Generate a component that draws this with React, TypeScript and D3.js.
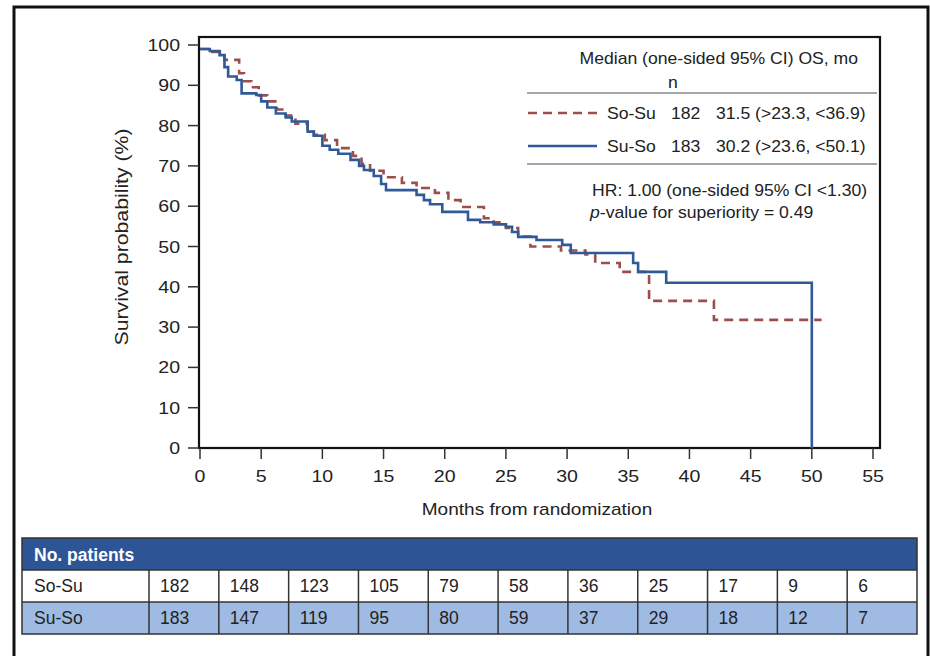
import React from "react";
import * as d3 from "d3";

// Kaplan–Meier step data (time in months, survival %)
const soSuTimes = [0, 1.0, 2.0, 3.2, 3.6, 4.2, 4.8, 5.5, 6.3, 7.0, 7.8, 8.8, 9.3, 10.2, 11.2, 12.5, 13.2, 13.9, 15.0, 16.5, 17.7, 19.2, 20.3, 21.3, 23.2, 24.0, 25.0, 26.0, 27.0, 29.5, 31.5, 32.3, 34.3, 36.7, 42.0, 50.8];
const soSuSurv = [99, 98.3, 96.3, 93, 91, 89.5, 87.5, 86, 84, 82.5, 80.5, 79, 77.7, 76.4, 74.4, 72.5, 70.5, 68.8, 67.2, 65.8, 64.5, 63.3, 61.5, 59.8, 57, 56, 54.6, 52.5, 50, 49, 48, 45.9, 43.7, 36.5, 31.8, 31.8];

const suSoTimes = [0, 0.8, 1.6, 2.0, 2.3, 3.0, 3.4, 4.6, 5.0, 5.5, 6.2, 7.0, 7.5, 8.8, 9.3, 10.0, 10.6, 11.3, 12.3, 13.0, 13.4, 14.2, 14.8, 15.2, 17.7, 18.3, 18.8, 19.8, 21.9, 22.9, 24.0, 25.0, 25.5, 26.0, 27.5, 29.6, 30.3, 35.4, 35.8, 38.1, 50];
const suSoSurv = [99, 98.5, 97.5, 94.5, 92.2, 91.3, 88, 87.6, 86, 84.5, 83, 82, 81, 78.5, 77.5, 75, 74, 73, 71.5, 70, 69, 67.5, 65.5, 64, 62.8, 61.5, 60.5, 58.6, 56.6, 56, 55.5, 54.9, 53.6, 52.4, 51.6, 50.4, 48.4, 45.9, 43.7, 41, 0];

const xTicks = [0, 5, 10, 15, 20, 25, 30, 35, 40, 45, 50, 55];
const yTicks = [0, 10, 20, 30, 40, 50, 60, 70, 80, 90, 100];

const groupNames = ["So-Su", "Su-So"];
const groupN = ["182", "183"];
const groupMedian = ["31.5 (>23.3, <36.9)", "30.2 (>23.6, <50.1)"];
const atRiskSoSu = [182, 148, 123, 105, 79, 58, 36, 25, 17, 9, 6];
const atRiskSuSo = [183, 147, 119, 95, 80, 59, 37, 29, 18, 12, 7];

const RED = "#9b4f4c";
const BLUE = "#2f5a97";
const FONT = "'Liberation Sans', Arial, sans-serif";
const TXT = "#222";

function T(props: {
  x: number;
  y: number;
  sx?: number;
  size: number;
  anchor?: string;
  rotate?: number;
  weight?: string;
  fill?: string;
  children: React.ReactNode;
}) {
  const { x, y, sx = 1, size, anchor = "start", rotate = 0, weight = "normal", fill = TXT, children } = props;
  return (
    <text
      transform={`translate(${x},${y}) rotate(${rotate}) scale(${sx},1)`}
      textAnchor={anchor}
      fontSize={size}
      fontWeight={weight}
      fill={fill}
    >
      {children}
    </text>
  );
}

export default function App() {
  const x = d3.scaleLinear().domain([0, 55]).range([200, 873]);
  const y = d3.scaleLinear().domain([0, 100]).range([448, 45]);
  const line = d3
    .line<[number, number]>()
    .x((d) => x(d[0]))
    .y((d) => y(d[1]))
    .curve(d3.curveStepAfter);

  const redPts = soSuTimes.map((t, i) => [t, soSuSurv[i]] as [number, number]);
  const bluePts = suSoTimes.map((t, i) => [t, suSoSurv[i]] as [number, number]);

  const tableLeft = 22;
  const firstColRight = 149;
  const tableRight = 917;
  const colW = (tableRight - firstColRight) / atRiskSoSu.length;
  const hdrTop = 538;
  const row1Top = 570;
  const row2Top = 602;
  const tableBottom = 634;

  const LG = 16;
  const LSX = 1.1;

  return (
    <div style={{ position: "absolute", left: 0, top: 0 }}>
      <svg width={930} height={656} style={{ display: "block", fontFamily: FONT }}>
        <rect x={0} y={0} width={930} height={656} fill="#fff" />
        {/* outer frame */}
        <path d="M14,660 L14,7 L928,7 L928,660" fill="none" stroke="#111" strokeWidth={3} />

        {/* plot box */}
        <rect x={199} y={37} width={681} height={411} fill="none" stroke="#111" strokeWidth={2.2} />

        {/* y ticks */}
        {yTicks.map((v) => (
          <g key={"y" + v}>
            <line x1={188} x2={199} y1={y(v)} y2={y(v)} stroke="#333" strokeWidth={1.5} />
            <T x={180} y={y(v) + 6} size={17} sx={1.15} anchor="end">
              {v}
            </T>
          </g>
        ))}
        {/* x ticks */}
        {xTicks.map((v) => (
          <g key={"x" + v}>
            <line x1={x(v)} x2={x(v)} y1={448} y2={459} stroke="#333" strokeWidth={1.5} />
            <T x={x(v)} y={482} size={17} sx={1.15} anchor="middle">
              {v}
            </T>
          </g>
        ))}
        <T x={537} y={515} size={17} sx={1.12} anchor="middle">
          Months from randomization
        </T>
        <T x={128} y={237} size={18} sx={1.18} anchor="middle" rotate={-90}>
          Survival probability (%)
        </T>

        {/* curves */}
        <path d={line(redPts) || ""} fill="none" stroke={RED} strokeWidth={2.6} strokeDasharray="9,6" />
        <path d={line(bluePts) || ""} fill="none" stroke={BLUE} strokeWidth={2.6} />

        {/* legend */}
        <T x={858} y={64} size={LG} sx={LSX} anchor="end">
          Median (one-sided 95% CI) OS, mo
        </T>
        <T x={668} y={88} size={LG} sx={LSX}>
          n
        </T>
        <line x1={527} x2={877} y1={93} y2={93} stroke="#888" strokeWidth={1.5} />
        <line x1={528} x2={597} y1={113} y2={113} stroke={RED} strokeWidth={2.6} strokeDasharray="9,6" />
        <line x1={528} x2={597} y1={146} y2={146} stroke={BLUE} strokeWidth={2.6} />
        {groupNames.map((g, i) => (
          <g key={g}>
            <T x={607} y={119 + i * 33} size={LG} sx={LSX}>
              {g}
            </T>
            <T x={671} y={119 + i * 33} size={LG} sx={LSX}>
              {groupN[i]}
            </T>
            <T x={716} y={119 + i * 33} size={LG} sx={LSX}>
              {groupMedian[i]}
            </T>
          </g>
        ))}
        <line x1={527} x2={877} y1={164} y2={164} stroke="#888" strokeWidth={1.5} />
        <T x={592} y={196} size={LG} sx={LSX}>
          HR: 1.00 (one-sided 95% CI &lt;1.30)
        </T>
        <T x={590} y={218} size={LG} sx={LSX}>
          <tspan fontStyle="italic">p</tspan>-value for superiority = 0.49
        </T>

        {/* at-risk table */}
        <rect x={tableLeft} y={hdrTop} width={tableRight - tableLeft} height={row1Top - hdrTop} fill="#2d5596" />
        <rect x={tableLeft} y={row1Top} width={tableRight - tableLeft} height={row2Top - row1Top} fill="#fff" />
        <rect x={tableLeft} y={row2Top} width={tableRight - tableLeft} height={tableBottom - row2Top} fill="#9fbbe3" />
        <rect x={tableLeft} y={hdrTop} width={tableRight - tableLeft} height={tableBottom - hdrTop} fill="none" stroke="#333" strokeWidth={1.5} />
        <line x1={tableLeft} x2={tableRight} y1={row1Top} y2={row1Top} stroke="#333" strokeWidth={1.5} />
        <line x1={tableLeft} x2={tableRight} y1={row2Top} y2={row2Top} stroke="#333" strokeWidth={1.5} />
        <line x1={firstColRight} x2={firstColRight} y1={row1Top} y2={tableBottom} stroke="#333" strokeWidth={1.5} />
        {atRiskSoSu.map((_, i) =>
          i > 0 ? (
            <line
              key={"c" + i}
              x1={firstColRight + i * colW}
              x2={firstColRight + i * colW}
              y1={row1Top}
              y2={tableBottom}
              stroke="#333"
              strokeWidth={1.5}
            />
          ) : null
        )}
        <T x={34} y={561} size={17.5} weight="bold" fill="#fff">
          No. patients
        </T>
        <T x={34} y={592} size={17.5}>
          So-Su
        </T>
        <T x={34} y={624} size={17.5}>
          Su-So
        </T>
        {atRiskSoSu.map((v, i) => (
          <T key={"r1" + i} x={firstColRight + i * colW + 11} y={592} size={17.5}>
            {v}
          </T>
        ))}
        {atRiskSuSo.map((v, i) => (
          <T key={"r2" + i} x={firstColRight + i * colW + 11} y={624} size={17.5}>
            {v}
          </T>
        ))}
      </svg>
    </div>
  );
}
